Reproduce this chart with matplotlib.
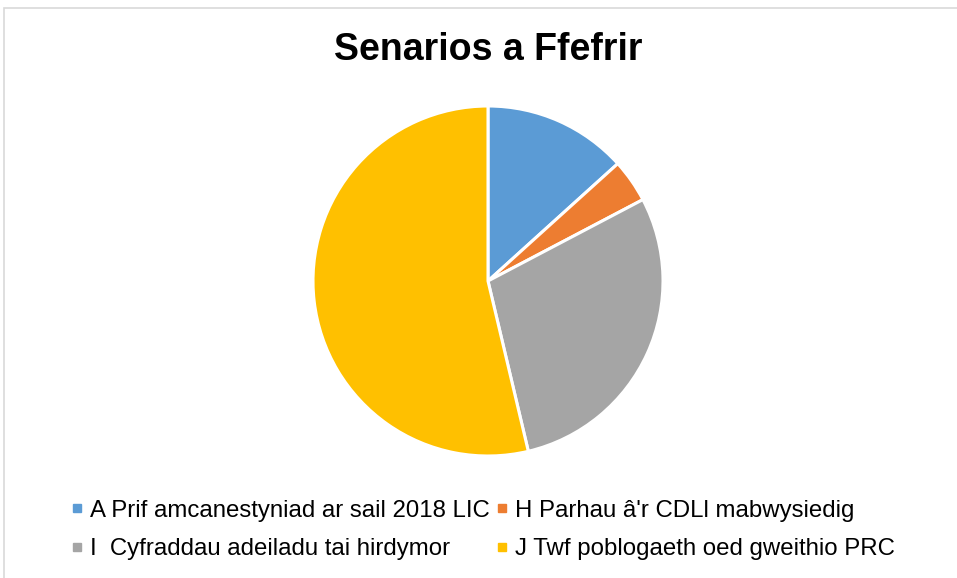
import matplotlib.pyplot as plt
from matplotlib.lines import Line2D
from matplotlib.patches import Rectangle

plt.rcParams['font.family'] = ['Liberation Sans', 'DejaVu Sans']

labels = ["A Prif amcanestyniad ar sail 2018 LIC",
          "H Parhau \u00e2'r CDLl mabwysiedig",
          "I  Cyfraddau adeiladu tai hirdymor",
          "J Twf poblogaeth oed gweithio PRC"]
values = [13.3, 4.0, 29.0, 53.7]
colors = ["#5B9BD5", "#ED7D31", "#A5A5A5", "#FFC000"]
title = "Senarios a Ffefrir"

W, H = 957, 578
fig = plt.figure(figsize=(W / 100, H / 100), dpi=100)

# light chart border
fig.patches.append(Rectangle((4 / W, -0.1), 1.2, 1 - 8 / H + 0.1, transform=fig.transFigure,
                             fill=False, edgecolor="#D9D9D9", linewidth=1.2))

cx, cy, r = 488, 281, 175
ax = fig.add_axes([(cx - r) / W, 1 - (cy + r) / H, 2 * r / W, 2 * r / H])
ax.pie(values, colors=colors, startangle=90, counterclock=False, radius=1,
       wedgeprops=dict(edgecolor="white", linewidth=2.2))
ax.set_xlim(-1, 1)
ax.set_ylim(-1, 1)
ax.set_aspect("equal")
ax.axis("off")

fig.text(cx / W, 1 - 50 / H, title, ha="center", va="center",
         fontsize=27, fontweight="bold")

handles = [Line2D([], [], marker="s", linestyle="none", markersize=5.8,
                  markerfacecolor=c, markeredgecolor=c) for c in colors]
order = [0, 2, 1, 3]
fig.legend([handles[i] for i in order], [labels[i] for i in order],
           ncol=2, loc="center", bbox_to_anchor=(483 / W, 1 - 530 / H),
           frameon=False, fontsize=17.3, handlelength=0.5, handletextpad=0.3,
           columnspacing=0.25, labelspacing=0.68, borderaxespad=0, borderpad=0)

fig.savefig("out.png", dpi=100)
